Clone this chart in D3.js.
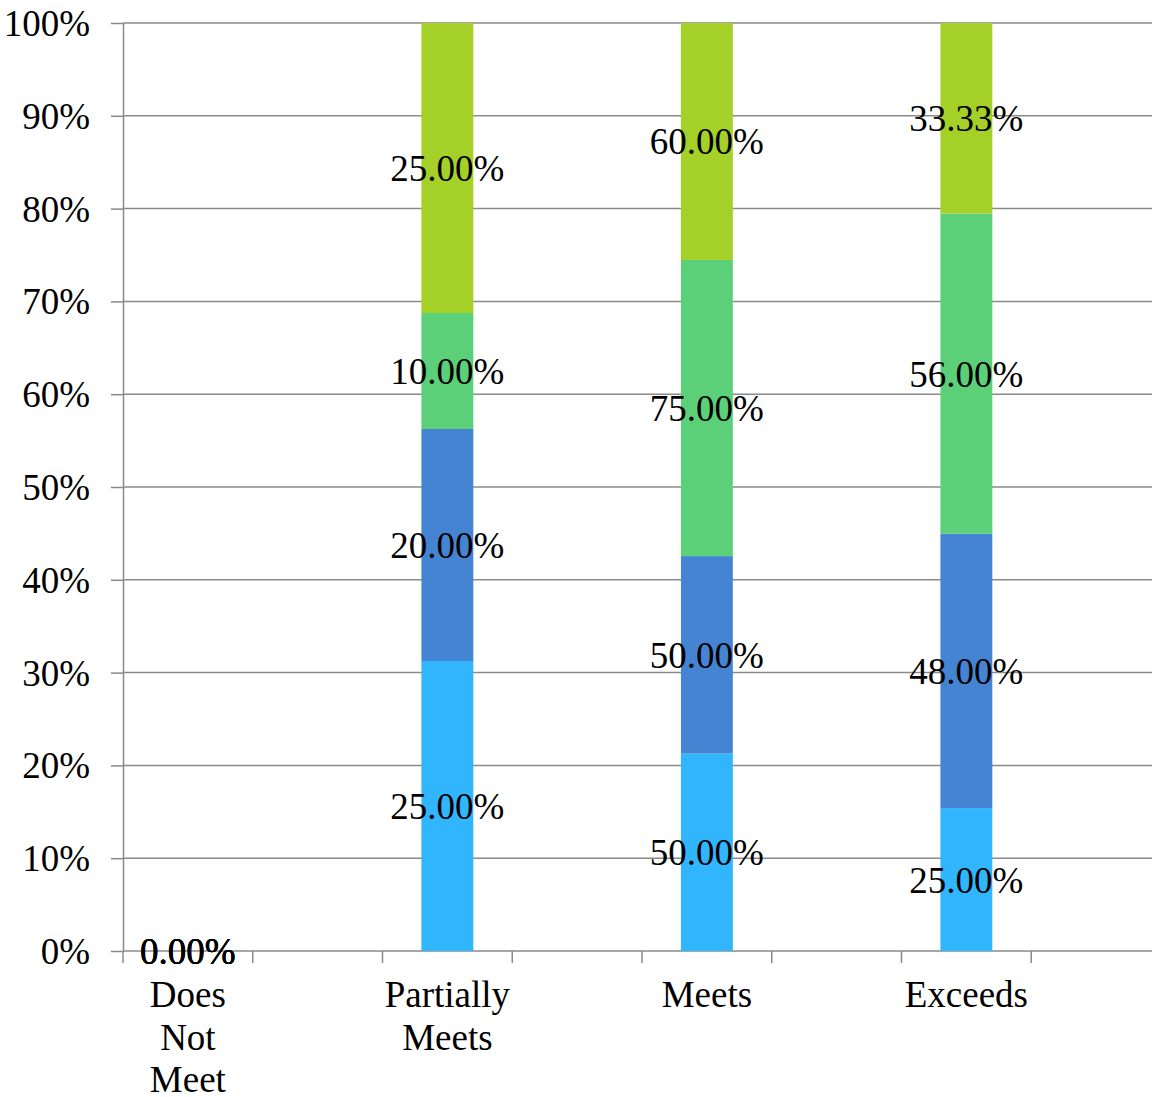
<!DOCTYPE html>
<html>
<head>
<meta charset="utf-8">
<script src="https://cdn.jsdelivr.net/npm/d3@7"></script>
<style>
  html, body { margin: 0; padding: 0; background: #fff; }
  svg { display: block; }
  text { font-family: "Liberation Serif", "Times New Roman", serif; font-size: 37px; fill: #000; }
</style>
</head>
<body>
<svg id="chart" width="1152" height="1097"></svg>
<script>
// ---- data ----
const categories = ["Does Not Meet", "", "Partially Meets", "", "Meets", "", "Exceeds", ""];
const seriesNames = ["Series 1", "Series 2", "Series 3", "Series 4"];
const series1 = [0, null, 25, null, 50, null, 25, null];
const series2 = [0, null, 20, null, 50, null, 48, null];
const series3 = [0, null, 10, null, 75, null, 56, null];
const series4 = [0, null, 25, null, 60, null, 33.33, null];
const yTickValues = [0, 0.1, 0.2, 0.3, 0.4, 0.5, 0.6, 0.7, 0.8, 0.9, 1.0];
const colors = ["#31B5FD", "#4584D3", "#5BD078", "#A5D027"];

const allSeries = [series1, series2, series3, series4];

// ---- layout ----
const svg = d3.select("#chart");
const mLeft = 123, mTop = 23, plotW = 1038, plotH = 928;
const mBottom = mTop + plotH;

const x = d3.scaleBand().domain(d3.range(categories.length)).range([mLeft, mLeft + plotW]).padding(0);
const y = d3.scaleLinear().domain([0, 1]).range([mBottom, mTop]);
const gridColor = "#8A8A8A";

// gridlines
svg.append("g").selectAll("line").data(yTickValues).join("line")
  .attr("x1", mLeft).attr("x2", mLeft + plotW)
  .attr("y1", d => y(d)).attr("y2", d => y(d))
  .attr("stroke", gridColor).attr("stroke-width", 1.5);

// stacked (100%) data
const stacks = [];
categories.forEach((c, i) => {
  const vals = allSeries.map(s => s[i]);
  if (vals.every(v => v == null)) return;
  const total = d3.sum(vals, v => v || 0);
  let acc = 0;
  vals.forEach((v, k) => {
    const frac = total > 0 ? (v || 0) / total : 0;
    stacks.push({ cat: i, k, v, y0: acc, y1: acc + frac });
    acc += frac;
  });
});

const barW = x.bandwidth() * 0.4;
svg.append("g").selectAll("rect").data(stacks.filter(d => d.y1 > d.y0)).join("rect")
  .attr("x", d => x(d.cat) + (x.bandwidth() - barW) / 2)
  .attr("width", barW)
  .attr("y", d => y(d.y1))
  .attr("height", d => y(d.y0) - y(d.y1))
  .attr("fill", d => colors[d.k]);

// y axis
const yAxis = d3.axisLeft(y).tickValues(yTickValues).tickFormat(d3.format(".0%"))
  .tickSizeInner(12).tickSizeOuter(0).tickPadding(21);
const gy = svg.append("g").attr("transform", `translate(${mLeft},0)`).call(yAxis);
gy.select(".domain").attr("stroke", gridColor).attr("stroke-width", 1.5);
gy.selectAll(".tick line").attr("stroke", gridColor).attr("stroke-width", 1.5);
gy.attr("font-family", null).attr("font-size", null);
gy.selectAll(".tick text").attr("dy", "0.34em");

// x axis ticks at category boundaries
svg.append("g").selectAll("line").data(d3.range(categories.length + 1)).join("line")
  .attr("x1", i => mLeft + i * x.step()).attr("x2", i => mLeft + i * x.step())
  .attr("y1", mBottom).attr("y2", mBottom + 12)
  .attr("stroke", gridColor).attr("stroke-width", 1.5);

// x labels with wrapping
const maxW = x.bandwidth();
const xl = svg.append("g").selectAll("text").data(categories.map((c, i) => ({ c, i })).filter(d => d.c)).join("text")
  .attr("text-anchor", "middle")
  .attr("x", d => x(d.i) + x.bandwidth() / 2)
  .attr("y", mBottom + 56);
xl.each(function (d) {
  const t = d3.select(this);
  const cx = x(d.i) + x.bandwidth() / 2;
  const words = d.c.split(" ");
  let line = [];
  let ts = t.append("tspan").attr("x", cx).attr("dy", 0);
  words.forEach(w => {
    line.push(w);
    ts.text(line.join(" "));
    if (ts.node().getComputedTextLength() > maxW && line.length > 1) {
      line.pop();
      ts.text(line.join(" "));
      line = [w];
      ts = t.append("tspan").attr("x", cx).attr("dy", 42.5).text(w);
    }
  });
});

// data labels
svg.append("g").selectAll("text").data(stacks).join("text")
  .attr("text-anchor", "middle")
  .attr("x", d => x(d.cat) + x.bandwidth() / 2)
  .attr("y", d => y((d.y0 + d.y1) / 2))
  .attr("dy", 13)
  .text(d => d3.format(".2f")(d.v) + "%");
</script>
</body>
</html>
